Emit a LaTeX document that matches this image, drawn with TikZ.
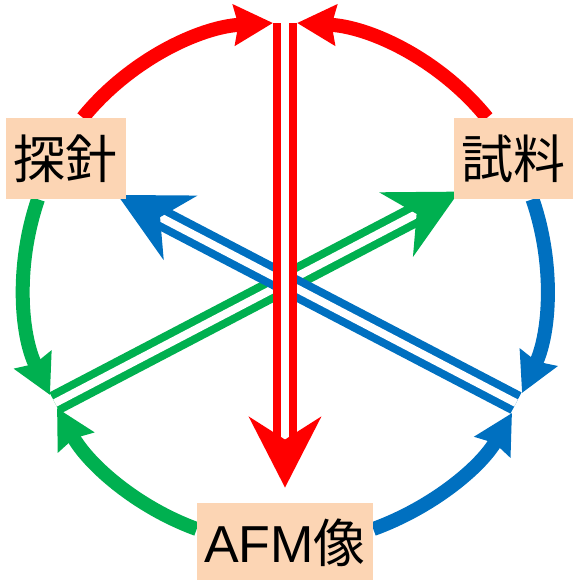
\documentclass[tikz,border=0pt]{standalone}
\usepackage{fontspec}
\setmainfont{Liberation Sans}
\newfontfamily\jp{Noto Sans CJK JP}
\usetikzlibrary{arrows.meta,backgrounds}
\definecolor{afmred}{RGB}{255,0,0}
\definecolor{afmgreen}{RGB}{0,176,80}
\definecolor{afmblue}{RGB}{0,112,192}
\definecolor{afmpeach}{RGB}{252,213,180}

\begin{document}
\begin{tikzpicture}[x=0.75pt,y=-0.75pt,
   box/.style={fill=afmpeach,inner sep=0pt,minimum height=60.75pt,
      font=\fontsize{39pt}{39pt}\selectfont},
   bow/.style={line width=10.5pt,looseness=0.89,
      -{Stealth[length=29pt,width=30pt,inset=3pt]}},
   duo/.style={line width=6pt,double=white,double distance=6pt,
      -{Stealth[length=53pt,width=54pt,inset=17pt]}}]
   \useasboundingbox (0,0) rectangle (572,580);
   \node[box,minimum width=90pt] (tan) at (65.5,158.5) {\jp 探針};
   \node[box,minimum width=90pt] (shi) at (513.5,158.5) {\jp 試料};
   \node[box,minimum width=132pt] (afm) at (285,543) {AFM{\jp 像}};
   \coordinate (top) at (285,23);
   \coordinate (topL) at (273,23);
   \coordinate (topR) at (297,23);
   \coordinate (left) at (55,403);
   \coordinate (leftU) at (50,395);
   \coordinate (leftL) at (57,408);
   \coordinate (right) at (516,403);
   \coordinate (rightU) at (522,393);
   \coordinate (rightL) at (512,413);
   \begin{scope}[on background layer]
      \draw[bow,afmred] (tan.67) to[out=51,in=183] (topL);
      \draw[bow,afmred] (shi.123) to[out=129,in=-3] (topR);
      \draw[bow,afmgreen] (tan.236) to[out=251,in=116] (leftU);
      \draw[bow,afmgreen] (afm.171) to[out=160,in=-61] (leftL);
      \draw[bow,afmblue] (shi.-65) to[out=-71,in=65] (rightU);
      \draw[bow,afmblue] (afm.9) to[out=20,in=240] (rightL);
      \draw[duo,afmgreen,shorten >=-5pt] (left) -- (shi.211);
      \draw[duo,afmblue,shorten >=-7pt] (right) -- (tan.south east);
      \draw[duo,afmred,shorten >=11pt] (top) -- (afm.north);
   \end{scope}
\end{tikzpicture}
\end{document}
